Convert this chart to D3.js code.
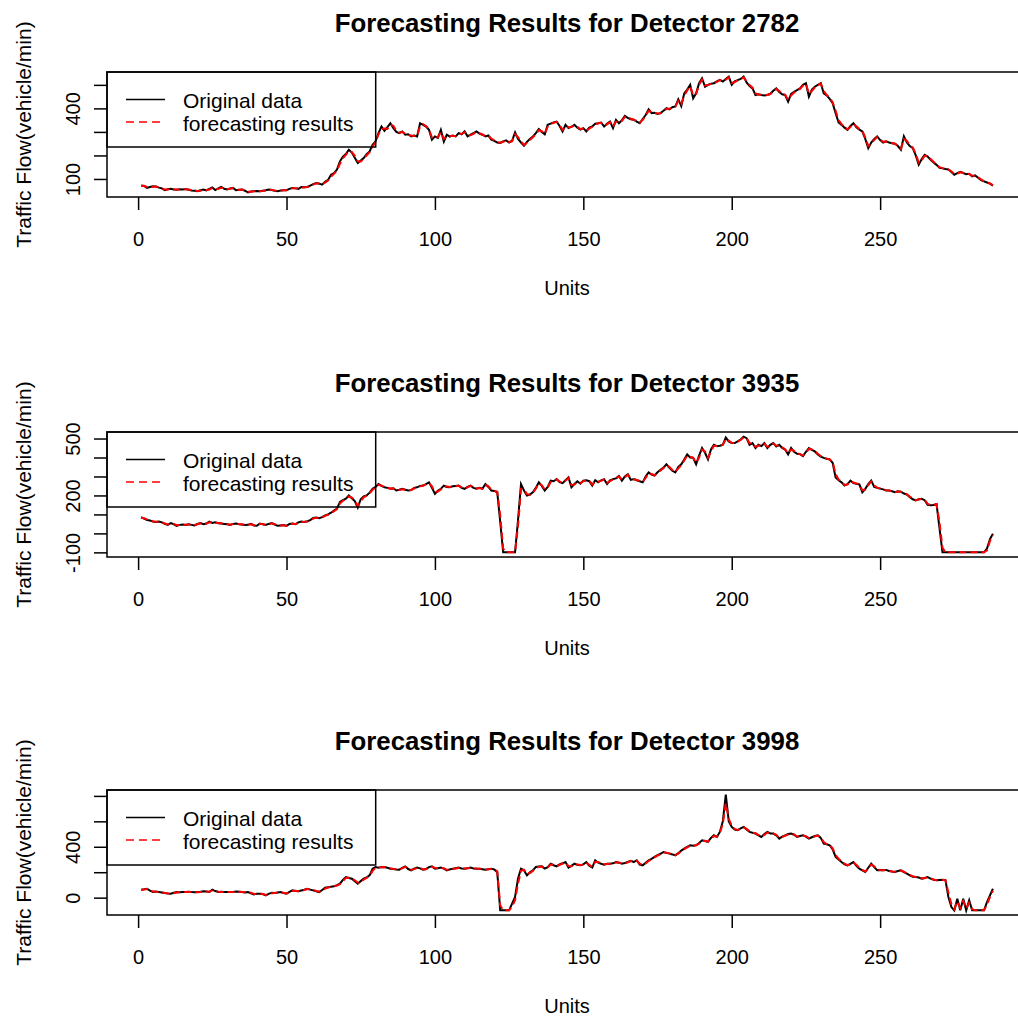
<!DOCTYPE html>
<html>
<head>
<meta charset="utf-8">
<script src="https://cdn.jsdelivr.net/npm/d3@7/dist/d3.min.js"></script>
<style>
  body { margin: 0; background: #fff; }
  svg { display: block; }
  text { font-family: "Liberation Sans", Arial, sans-serif; fill: #000; }
</style>
</head>
<body>
<svg id="chart" width="1018" height="1018"></svg>
<script>
// Five-minute intervals over one day (1..288)
const units = d3.range(1, 289);
const xTicks = [0, 50, 100, 150, 200, 250];

const detectors = ["2782", "3935", "3998"];

// Detector 2782
const original2782 = [
  72,70,62,66,69,68,63,60,52,56,
  58,55,54,56,55,57,54,51,50,48,
  52,55,51,58,64,53,60,66,58,55,
  60,62,52,54,55,50,43,47,48,49,
  48,50,52,55,53,50,48,51,52,52,
  58,62,60,58,66,65,66,72,78,83,
  80,76,88,96,118,125,140,175,195,206,
  224,212,190,168,178,189,205,217,245,260,
  295,323,305,320,337,316,300,295,302,288,
  290,281,285,281,337,330,323,309,267,281,
  275,309,259,288,280,285,281,295,290,302,
  281,288,295,302,293,288,281,285,267,262,
  255,253,260,264,255,262,298,270,255,241,
  258,270,280,295,312,300,290,330,335,340,
  344,325,302,330,316,322,330,318,310,316,
  302,318,323,335,337,340,323,335,344,316,
  351,337,350,368,360,354,352,344,337,355,
  372,396,380,381,376,380,390,401,396,405,
  408,439,410,464,480,500,443,464,507,528,
  492,500,505,507,515,521,514,525,535,500,
  515,520,525,535,510,495,485,457,460,457,
  455,457,462,475,485,470,460,457,429,462,
  470,478,485,500,507,450,480,492,500,507,
  464,455,440,422,380,340,330,318,309,325,
  337,320,310,302,270,231,255,270,281,265,
  255,260,255,252,250,240,224,281,255,240,
  231,200,161,185,203,195,182,170,160,147,
  145,142,140,130,118,125,130,125,120,122,
  111,115,105,95,90,85,80,72
];
const forecast2782 = [
  70,71,66,64,67,68,65,61,55,55,
  57,56,55,55,56,56,55,53,51,49,
  50,54,53,55,61,58,57,63,61,56,
  58,61,56,53,55,52,46,46,48,49,
  48,49,51,54,54,51,49,50,52,52,
  55,60,61,59,63,65,66,70,76,81,
  82,78,84,93,110,122,135,165,188,202,
  218,215,198,175,174,185,200,214,238,255,
  290,312,314,313,330,326,305,297,300,292,
  289,284,284,282,325,333,325,312,276,277,
  277,300,270,282,282,284,282,292,291,299,
  287,286,292,300,295,289,283,284,272,264,
  257,254,258,263,257,260,290,278,259,245,
  253,266,277,291,307,303,292,322,334,339,
  343,330,309,324,320,321,328,321,312,314,
  305,314,322,332,337,339,327,332,341,322,
  344,341,347,364,362,356,352,346,339,351,
  368,390,384,381,378,379,387,398,398,403,
  407,432,418,455,476,495,455,461,500,522,
  498,499,504,507,513,520,516,522,532,508,
  512,519,524,532,515,499,488,464,459,458,
  456,457,461,472,482,474,462,458,436,455,
  467,476,483,497,505,462,474,489,498,505,
  474,457,444,426,390,350,333,320,311,321,
  334,324,312,304,277,240,250,266,278,268,
  258,259,256,253,250,242,228,270,262,244,
  233,207,170,180,198,197,185,173,162,150,
  146,143,140,133,121,123,128,126,121,121,
  114,114,108,98,91,86,81,74
];

// Detector 3935
const original3935 = [
  85,78,71,68,62,60,62,58,50,45,
  54,48,40,45,47,44,48,45,42,50,
  54,48,52,62,55,58,54,52,50,48,
  45,50,52,48,47,44,45,50,42,40,
  52,48,44,50,54,47,40,42,44,40,
  50,52,48,58,62,60,64,70,82,84,
  80,86,95,100,109,120,131,166,175,183,
  200,185,170,136,180,195,200,215,235,245,
  260,250,243,240,235,238,226,230,235,230,
  226,228,240,243,250,252,260,269,240,209,
  225,235,252,245,243,248,250,252,240,235,
  245,252,240,235,240,235,260,245,226,224,
  217,60,-100,-100,-100,-100,-100,70,260,226,
  200,205,217,240,269,250,226,245,278,275,
  286,270,265,280,295,243,260,275,262,278,
  280,275,252,280,269,280,286,260,280,286,
  290,303,278,300,312,282,286,280,275,269,
  300,321,310,305,322,335,347,364,345,330,
  321,350,364,390,416,400,398,364,410,450,
  425,390,442,467,460,462,467,505,485,476,
  476,485,495,510,502,467,476,450,467,460,
  476,450,467,476,458,467,450,441,416,450,
  430,420,418,407,430,450,440,432,416,405,
  398,393,390,372,295,280,269,252,260,278,
  265,262,258,217,235,260,278,245,240,236,
  232,226,226,222,217,222,220,210,205,191,
  180,174,180,182,175,150,148,150,155,28,
  -100,-100,-100,-100,-100,-100,-100,-100,-100,-100,
  -100,-100,-100,-100,-100,-80,-30,-2
];
const forecast3935 = [
  82,80,74,69,64,61,61,59,52,47,
  52,50,43,44,46,45,47,46,43,48,
  53,50,51,59,57,57,55,53,51,49,
  46,49,51,49,47,45,45,48,44,41,
  49,49,45,48,53,49,42,42,43,41,
  47,51,49,55,60,61,63,68,78,83,
  81,84,92,98,106,117,128,158,172,181,
  195,189,175,145,170,190,199,211,230,242,
  256,252,245,241,236,237,229,229,233,231,
  227,228,237,242,248,251,258,266,248,218,
  221,232,248,247,244,247,249,251,243,237,
  243,250,243,237,239,236,254,249,231,225,
  219,95,-80,-100,-100,-100,-100,40,235,232,
  207,204,214,235,262,254,232,241,271,276,
  284,274,266,277,292,255,257,271,265,275,
  280,277,258,274,272,277,284,266,276,284,
  289,300,283,296,309,290,285,281,276,271,
  292,316,313,306,318,332,344,360,350,334,
  324,343,360,384,410,404,399,372,400,442,
  432,398,432,462,461,462,466,497,489,478,
  476,483,492,506,504,475,474,456,463,461,
  472,456,463,474,462,465,454,443,422,442,
  435,423,418,410,425,445,442,434,420,408,
  400,394,390,376,313,284,272,256,258,274,
  268,263,259,227,231,254,274,252,241,237,
  233,228,226,223,218,221,220,212,206,194,
  183,175,179,181,177,156,149,149,154,60,
  -75,-100,-100,-100,-100,-100,-100,-100,-100,-100,
  -100,-100,-100,-100,-100,-90,-40,-10
];

// Detector 3998
const original3998 = [
  63,66,70,55,44,48,44,40,36,33,
  31,38,44,42,44,44,46,44,42,44,
  46,50,48,44,63,52,44,46,44,45,
  44,44,48,46,44,40,44,35,26,30,
  31,28,18,30,39,36,40,44,36,31,
  46,57,52,50,56,62,70,63,57,50,
  44,60,78,82,86,89,98,110,140,162,
  155,149,130,110,130,149,160,175,228,240,
  236,240,241,235,228,225,222,220,235,246,
  225,215,228,236,230,220,225,240,246,228,
  232,236,228,215,222,228,232,236,230,228,
  232,236,230,228,228,224,220,224,228,222,
  200,-100,-100,-100,-100,-47,5,150,228,215,
  175,200,215,241,244,246,228,240,267,255,
  246,262,270,280,236,250,267,258,254,262,
  280,250,236,294,275,267,260,267,267,270,
  280,275,267,272,280,290,280,294,260,254,
  275,294,305,320,335,345,359,352,346,340,
  333,350,370,386,400,412,408,412,430,451,
  445,438,470,490,477,517,600,810,600,556,
  535,530,545,556,535,517,510,504,490,477,
  500,517,505,504,490,464,480,490,500,504,
  495,477,485,490,480,464,475,485,490,470,
  425,420,412,380,320,300,280,262,254,265,
  280,250,228,215,202,235,267,240,215,218,
  215,218,210,205,202,210,215,200,189,175,
  165,162,158,149,155,162,150,140,136,138,
  140,138,5,-74,-100,-8,-100,-8,-100,-21,
  -100,-100,-100,-100,-100,-35,18,70
];
const forecast3998 = [
  60,64,68,60,48,46,45,41,37,34,
  32,35,41,43,43,44,45,45,43,43,
  45,48,49,46,57,56,47,45,45,44,
  44,44,46,47,45,42,42,38,30,28,
  30,29,22,26,35,37,38,42,39,33,
  40,52,54,51,54,60,67,66,60,53,
  47,54,71,80,84,88,95,106,130,155,
  157,151,137,118,123,142,156,170,210,235,
  238,239,240,237,231,226,223,221,230,242,
  232,219,224,233,232,224,224,235,243,234,
  231,235,231,219,220,226,230,234,232,229,
  231,234,232,229,228,226,222,223,226,224,
  208,-60,-100,-100,-100,-70,-20,110,210,220,
  188,194,210,234,242,245,233,238,260,258,
  249,257,267,277,248,247,262,260,256,260,
  275,258,241,281,280,270,262,265,267,269,
  277,276,270,271,277,287,283,290,268,256,
  269,288,302,316,331,342,355,354,348,342,
  335,346,365,382,396,409,409,411,425,446,
  447,440,462,485,480,508,580,740,620,565,
  540,532,541,552,540,522,512,506,494,481,
  494,512,508,505,494,470,476,487,497,502,
  497,481,483,488,483,469,472,482,488,475,
  437,422,414,388,335,305,285,267,256,262,
  276,258,234,219,205,227,260,247,222,217,
  216,217,212,206,203,208,213,204,192,179,
  168,163,159,152,153,160,153,143,137,137,
  139,138,40,-50,-90,-30,-80,-25,-85,-40,
  -90,-100,-100,-100,-100,-55,5,55
];

// Y-axis ticks and the subset that carries a label
const yTicks2782 = [100, 200, 300, 400, 500];
const yLabels2782 = [100, 400];
const yTicks3935 = [-100, 0, 100, 200, 300, 400, 500];
const yLabels3935 = [-100, 200, 500];
const yTicks3998 = [0, 200, 400, 600, 800];
const yLabels3998 = [0, 400];

const legendLabels = ["Original data", "forecasting results"];
const xTitle = "Units";
const yTitle = "Traffic Flow(vehicle/min)";
const titlePrefix = "Forecasting Results for Detector ";

const panels = [
  { id: detectors[0], orig: original2782, fc: forecast2782, ticks: yTicks2782, labels: yLabels2782, top: 72 },
  { id: detectors[1], orig: original3935, fc: forecast3935, ticks: yTicks3935, labels: yLabels3935, top: 432 },
  { id: detectors[2], orig: original3998, fc: forecast3998, ticks: yTicks3998, labels: yLabels3998, top: 790 }
];

const svg = d3.select("#chart");
const left = 107, right = 1027, boxH = 125;
const fontStack = '"Liberation Sans", Arial, sans-serif';

// x range padded by 4% on each side, as base graphics does
const xExt = d3.extent(units);
const xPad = (xExt[1] - xExt[0]) * 0.04;
const x = d3.scaleLinear().domain([xExt[0] - xPad, xExt[1] + xPad]).range([left, right]);

panels.forEach(p => {
  const top = p.top, bottom = top + boxH;
  const ext = d3.extent(p.orig);
  const pad = (ext[1] - ext[0]) * 0.04;
  const y = d3.scaleLinear().domain([ext[0] - pad, ext[1] + pad]).range([bottom, top]);
  const g = svg.append("g");

  // title
  g.append("text")
    .attr("x", (left + right) / 2).attr("y", top - 40)
    .attr("text-anchor", "middle")
    .style("font-size", "25.8px").style("font-weight", "bold")
    .text(titlePrefix + p.id);

  // series: observed (solid black) then forecast (dashed red) on top
  const line = d3.line().x((d, i) => x(units[i])).y(d => y(d));
  g.append("path").datum(p.orig)
    .attr("d", line).attr("fill", "none")
    .attr("stroke", "#000").attr("stroke-width", 2);
  g.append("path").datum(p.fc)
    .attr("d", line).attr("fill", "none")
    .attr("stroke", "#ff0000").attr("stroke-width", 2)
    .attr("stroke-dasharray", "7,4");

  // x axis
  const xa = g.append("g").attr("transform", `translate(0,${bottom})`)
    .call(d3.axisBottom(x).tickValues(xTicks).tickSize(13).tickSizeOuter(0).tickFormat(d3.format("d")));
  xa.select(".domain").remove();
  xa.selectAll("line").attr("stroke", "#000").attr("stroke-width", 1.5);
  xa.selectAll("text")
    .attr("y", 42).attr("dy", "0.35em")
    .style("font-size", "20px").style("font-family", fontStack).attr("fill", "#000");

  // y axis with labels parallel to the axis
  const ya = g.append("g").attr("transform", `translate(${left},0)`)
    .call(d3.axisLeft(y).tickValues(p.ticks).tickSize(13).tickSizeOuter(0)
      .tickFormat(d => p.labels.includes(d) ? String(d) : ""));
  ya.select(".domain").remove();
  ya.selectAll("line").attr("stroke", "#000").attr("stroke-width", 1.5);
  ya.selectAll("text")
    .attr("x", null).attr("dy", null)
    .attr("text-anchor", "middle").attr("dominant-baseline", "central")
    .attr("transform", "translate(-34.5,0) rotate(-90)")
    .style("font-size", "20px").style("font-family", fontStack).attr("fill", "#000");

  // axis titles
  g.append("text")
    .attr("x", (left + right) / 2).attr("y", bottom + 91)
    .attr("text-anchor", "middle").attr("dominant-baseline", "central")
    .style("font-size", "20px").text(xTitle);
  g.append("text")
    .attr("transform", `translate(23,${(top + bottom) / 2}) rotate(-90)`)
    .attr("text-anchor", "middle").attr("dominant-baseline", "central")
    .style("font-size", "21px").text(yTitle);

  // plot box
  g.append("rect")
    .attr("x", left).attr("y", top).attr("width", right - left).attr("height", boxH)
    .attr("fill", "none").attr("stroke", "#000").attr("stroke-width", 1.5);

  // legend (top-left, no fill)
  const lg = g.append("g").attr("transform", `translate(${left},${top})`);
  lg.append("rect").attr("x", 0).attr("y", 0).attr("width", 268.7).attr("height", 75)
    .attr("fill", "none").attr("stroke", "#000").attr("stroke-width", 1.5);
  const rows = [
    { label: legendLabels[0], color: "#000", dash: null, dy: 27.5 },
    { label: legendLabels[1], color: "#ff0000", dash: "8,5", dy: 50 }
  ];
  rows.forEach(r => {
    lg.append("line").attr("x1", 19).attr("x2", 58).attr("y1", r.dy).attr("y2", r.dy)
      .attr("stroke", r.color).attr("stroke-width", 1.5)
      .attr("stroke-dasharray", r.dash);
    lg.append("text").attr("x", 76).attr("y", r.dy + 1)
      .attr("dominant-baseline", "central")
      .style("font-size", "21px").text(r.label);
  });
});
</script>
</body>
</html>
